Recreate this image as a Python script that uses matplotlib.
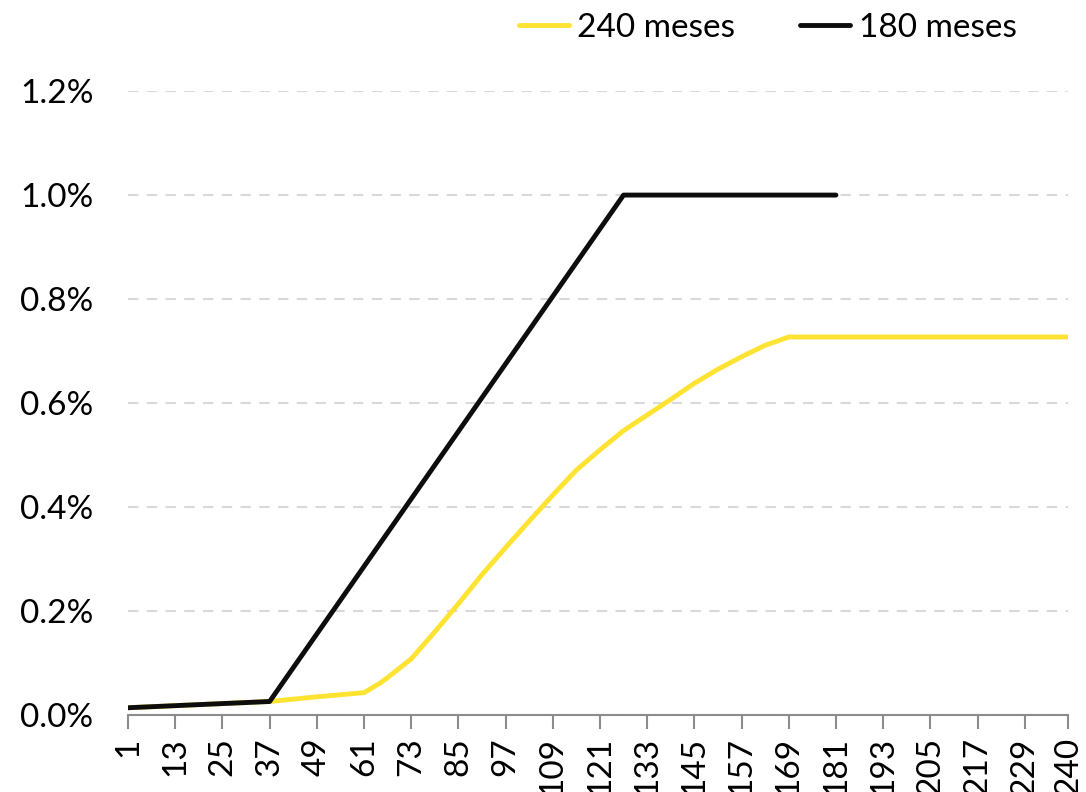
import matplotlib.pyplot as plt
from matplotlib.ticker import FuncFormatter

plt.rcParams['font.family'] = ['Lato', 'DejaVu Sans']

# 240 meses (en %)
meses_240 = [1, 13, 25, 37, 49, 61, 65, 67, 73, 79, 85, 91, 97, 103, 109, 115, 121, 127, 133,
             139, 145, 151, 157, 163, 169, 181, 193, 205, 217, 229, 240]
valor_240 = [0.014, 0.018, 0.022, 0.026, 0.035, 0.043, 0.061, 0.072, 0.108, 0.160, 0.214, 0.270,
             0.322, 0.373, 0.423, 0.471, 0.510, 0.547, 0.577, 0.607, 0.638, 0.665, 0.689, 0.711, 0.727,
             0.727, 0.727, 0.727, 0.727, 0.727, 0.727]

# 180 meses
meses_180 = [1, 13, 25, 37, 127, 181]
valor_180 = [0.014, 0.018, 0.022, 0.026, 1.0, 1.0]

ticks_x = [1, 13, 25, 37, 49, 61, 73, 85, 97, 109, 121, 133, 145, 157, 169, 181, 193, 205, 217, 229, 240]
ticks_y = [0.0, 0.2, 0.4, 0.6, 0.8, 1.0, 1.2]

fig = plt.figure(figsize=(10.86, 7.92), dpi=100)
ax = fig.add_axes([0.1179, 0.0972, 0.8655, 0.7878])

ax.plot(meses_240, valor_240, color='#FFE332', lw=3.5, solid_capstyle='round', solid_joinstyle='round',
        label='240 meses', zorder=3)
ax.plot(meses_180, valor_180, color='#0d0d0d', lw=3.5, solid_capstyle='round', label='180 meses', zorder=4)

ax.set_xlim(1, 240)
ax.set_ylim(0, 1.2)
ax.set_xticks(ticks_x)
ax.set_xticklabels([str(t) for t in ticks_x], rotation=90, fontsize=24)
ax.set_yticks(ticks_y)
ax.yaxis.set_major_formatter(FuncFormatter(lambda v, p: f'{v:.1f}%'))
ax.tick_params(axis='y', length=0, labelsize=24, pad=25)
ax.tick_params(axis='x', length=10, width=1.5, color='#8c8c8c', pad=6)

for s in ['top', 'right', 'left']:
    ax.spines[s].set_visible(False)
ax.spines['bottom'].set_color('#8c8c8c')
ax.spines['bottom'].set_linewidth(1.5)

ax.grid(axis='y', color='#d9d9d9', linestyle=(0, (5, 4)), lw=1.5, zorder=0)
ax.set_axisbelow(True)

fig.legend(loc='center right', bbox_to_anchor=(0.936, 0.965), ncol=2, frameon=False, fontsize=24,
           handlelength=1.5, handletextpad=0.25, columnspacing=1.95, borderpad=0, borderaxespad=0)

fig.savefig('out.png', dpi=100)
